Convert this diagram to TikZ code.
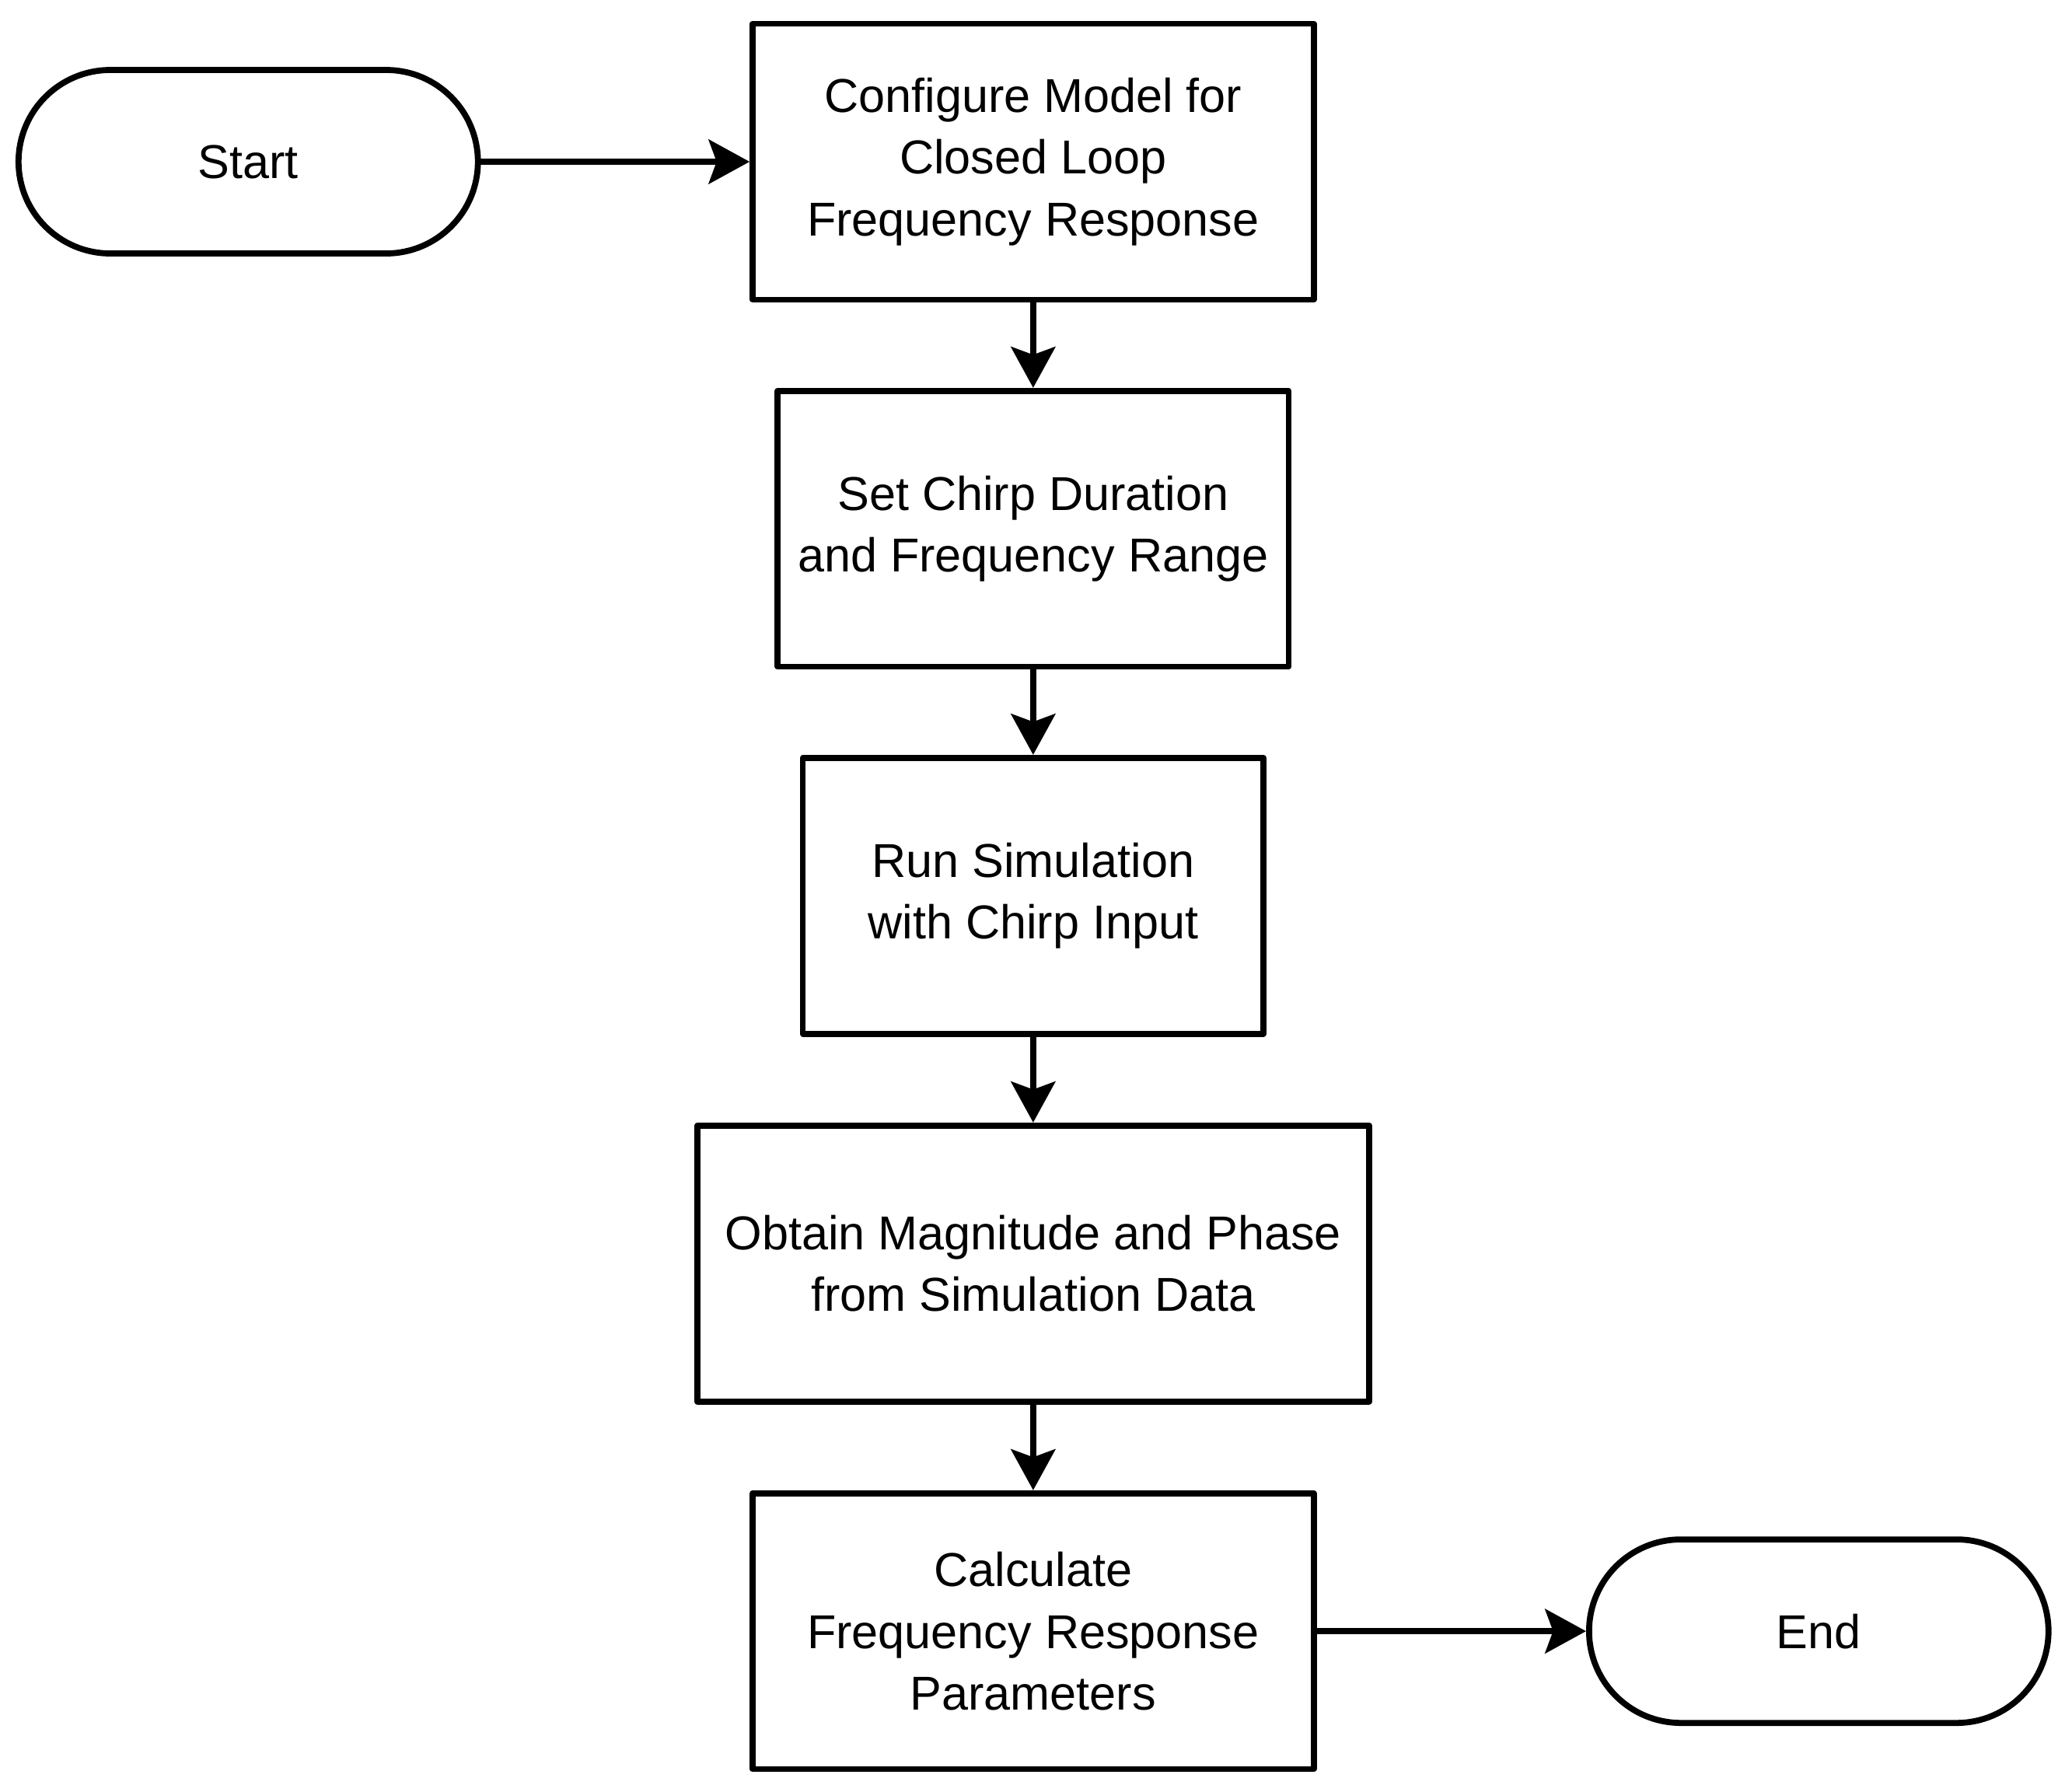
\documentclass[tikz,border=0pt]{standalone}
\usepackage{fontspec}
\setmainfont{Liberation Sans}
\usetikzlibrary{arrows.meta}

\begin{document}
\begin{tikzpicture}[line cap=round,line join=round,>={Stealth[length=0.62cm,width=0.67cm,inset=0.12cm]},x=0.02cm,y=0.02cm,
    blk/.style={draw,line width=2.6pt,align=center,minimum height=4.18cm,inner sep=0pt,font=\fontsize{20.5}{26.7}\selectfont},
    term/.style={blk,rounded corners=1.39cm,minimum width=6.96cm,minimum height=2.78cm},
    flow/.style={->,line width=2.6pt}]
                  \useasboundingbox (0,0) rectangle (1564,1357);
                  \node[term] (start) at (188,1234.5) {Start};
                  \node[blk,minimum width=8.5cm] (cfg) at (782.5,1234.5) {Configure Model for\\Closed Loop\\Frequency Response};
                  \node[blk,minimum width=7.74cm] (chirp) at (782.5,956.5) {Set Chirp Duration\\and Frequency Range};
                  \node[blk,minimum width=6.98cm] (sim) at (782.5,678.5) {Run Simulation\\with Chirp Input};
                  \node[blk,minimum width=10.18cm] (magph) at (782.5,400) {Obtain Magnitude and Phase\\from Simulation Data};
                  \node[blk,minimum width=8.5cm] (calc) at (782.5,121.5) {Calculate\\Frequency Response\\Parameters};
                  \node[term] (end) at (1377.5,121.5) {End};
                  \draw[flow] (start) -- (cfg);
                  \draw[flow] (cfg) -- (chirp);
                  \draw[flow] (chirp) -- (sim);
                  \draw[flow] (sim) -- (magph);
                  \draw[flow] (magph) -- (calc);
                  \draw[flow] (calc) -- (end);
\end{tikzpicture}
\end{document}
